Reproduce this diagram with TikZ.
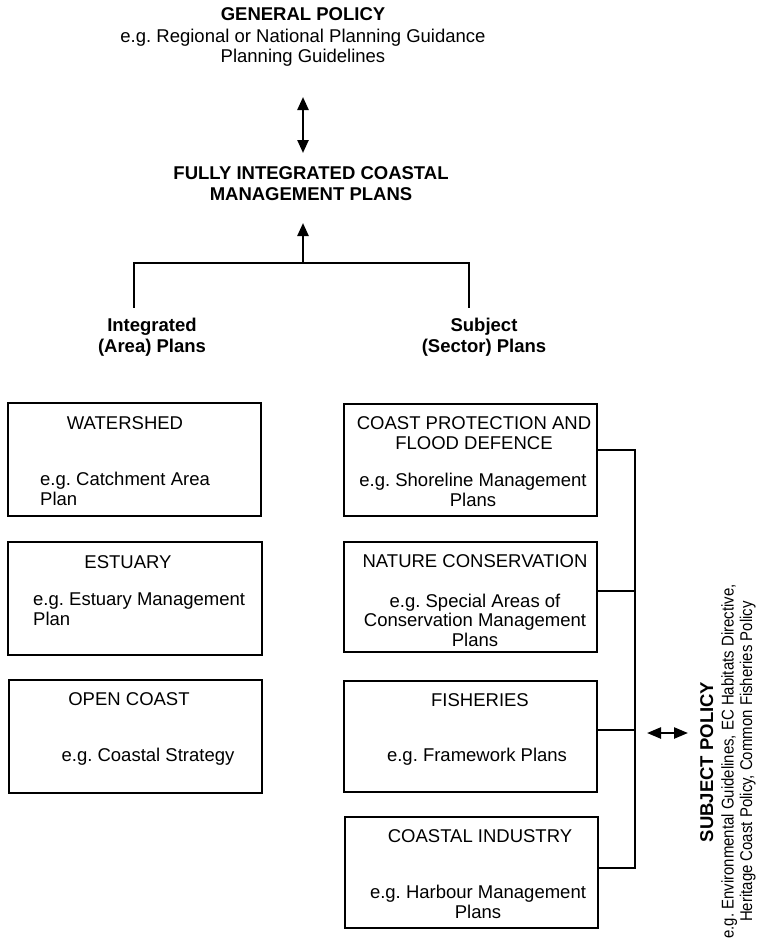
\documentclass[tikz,border=0pt]{standalone}
\usepackage{fontspec}
\setmainfont{Liberation Sans}
\newfontfamily\narrowsans[FakeStretch=0.88]{Liberation Sans}
\usetikzlibrary{arrows.meta}
\begin{document}
\frenchspacing
\begin{tikzpicture}[x=1pt,y=-1pt,
  txt/.style={font=\fontsize{18.5}{19.5}\selectfont, inner sep=0pt, anchor=base, align=center},
  hd/.style={txt, font=\fontsize{18.5}{20.5}\selectfont\bfseries},
  small/.style={txt, font=\narrowsans\fontsize{17}{18.5}\selectfont},
  panel/.style={draw, line width=1.9pt, inner sep=0pt, minimum width=253pt},
  bus/.style={line width=2.4pt},
  thinline/.style={line width=1.2pt},
  >={Triangle[length=13pt,width=11pt]}
]
\useasboundingbox (0,0) rectangle (761,940);

% ---- headings (multi-line nodes are placed by the baseline of their last line) ----
\node[hd] (gp) at (303,20.5) {GENERAL POLICY};
\node[txt] (gpx) at (303,62) {e.g. Regional or National Planning Guidance\\Planning Guidelines};
\node[hd] (ficm) at (311,200) {FULLY INTEGRATED COASTAL\\MANAGEMENT PLANS};
\node[hd] (integ) at (152,352) {Integrated\\(Area) Plans};
\node[hd] (subj) at (484,352) {Subject\\(Sector) Plans};

% ---- arrows between policy levels ----
\coordinate (gpTip) at (303,97);
\coordinate (fiTip) at (303,153);
\draw[bus, <->] (gpTip) -- (fiTip);

\coordinate (split) at (303,263);
\coordinate (fiIn) at (303,223);
\draw[bus, ->] (split) -- (fiIn);

\coordinate (brL) at (133,263);
\coordinate (brR) at (470,263);
\draw[line width=2pt] (brL) -- (brR);
\coordinate (intTop) at (134,308);
\coordinate (subTop) at (469,308);
\draw[thinline] (intTop |- brL) -- (intTop);
\draw[thinline] (subTop |- brR) -- (subTop);

% ---- integrated (area) plans ----
\node[panel, minimum height=113pt] (wat) at (134.5,459.5) {};
\node[txt] (watT) at (125,429) {WATERSHED};
\node[txt, anchor=base west, align=left] (watE) at (40,505) {e.g. Catchment Area\\Plan};

\node[panel, minimum width=254pt, minimum height=113pt] (est) at (135,598.5) {};
\node[txt] (estT) at (128,568) {ESTUARY};
\node[txt, anchor=base west, align=left] (estE) at (33,625) {e.g. Estuary Management\\Plan};

\node[panel, minimum height=113pt] (opc) at (135.5,736.5) {};
\node[txt] (opcT) at (129,705.5) {OPEN COAST};
\node[txt] (opcE) at (148,761.5) {e.g. Coastal Strategy};

% ---- subject (sector) plans ----
\node[panel, minimum height=112pt] (cpf) at (470.5,460) {};
\node[txt] (cpfT) at (474,449) {COAST PROTECTION AND\\FLOOD DEFENCE};
\node[txt] (cpfE) at (473,506) {e.g. Shoreline Management\\Plans};

\node[panel, minimum height=110pt] (nat) at (470.5,597) {};
\node[txt] (natT) at (475,567.5) {NATURE CONSERVATION};
\node[txt] (natE) at (475,646) {e.g. Special Areas of\\Conservation Management\\Plans};

\node[panel, minimum height=111pt] (fish) at (470.5,736.5) {};
\node[txt] (fishT) at (480,706.5) {FISHERIES};
\node[txt] (fishE) at (477,761.5) {e.g. Framework Plans};

\node[panel, minimum height=111pt] (ind) at (471.5,872.5) {};
\node[txt] (indT) at (480,842.5) {COASTAL INDUSTRY};
\node[txt] (indE) at (478,918) {e.g. Harbour Management\\Plans};

% ---- bus joining the sector plans ----
\coordinate (jA) at (635,450);
\coordinate (jB) at (635,591);
\coordinate (jC) at (635,730);
\coordinate (jD) at (635,868);
\draw[bus] (cpf.east |- jA) -- (jA) -- (jD) -- (ind.east |- jD);
\draw[bus] (nat.east |- jB) -- (jB);
\draw[bus] (fish.east |- jC) -- (jC);

% ---- subject policy ----
\coordinate (spL) at (647,733);
\coordinate (spR) at (688,733);
\draw[line width=2.4pt, {Triangle[length=14pt,width=11pt]}-{Triangle[length=14pt,width=11pt]}] (spL) -- (spR);

\node[hd, rotate=90] (sp) at (713,762) {SUBJECT POLICY};
\node[small, rotate=90] (spE) at (752,761.5) {e.g. Environmental Guidelines, EC Habitats Directive,\\Heritage Coast Policy, Common Fisheries Policy};
\end{tikzpicture}
\end{document}
